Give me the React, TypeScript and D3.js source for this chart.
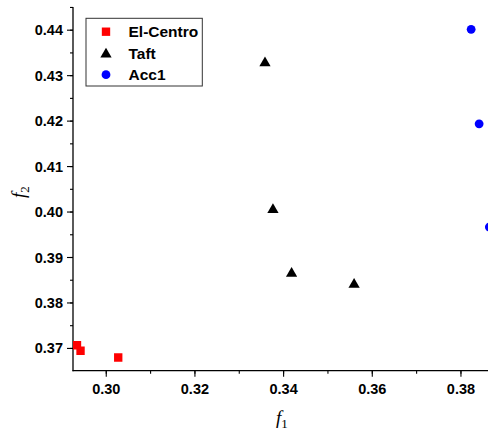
import React from "react";
import * as d3 from "d3";

const elCentroF1 = [0.2934, 0.2942, 0.3027];
const elCentroF2 = [0.3707, 0.3695, 0.368];
const taftF1 = [0.3358, 0.3376, 0.3418, 0.3559];
const taftF2 = [0.433, 0.4007, 0.3867, 0.3843];
const acc1F1 = [0.3823, 0.3841, 0.3864];
const acc1F2 = [0.4402, 0.4194, 0.3967];
const xTicks = [0.3, 0.32, 0.34, 0.36, 0.38];
const yTicks = [0.37, 0.38, 0.39, 0.4, 0.41, 0.42, 0.43, 0.44];
const seriesNames = ["El-Centro", "Taft", "Acc1"];
const seriesColors = ["#ff0000", "#000000", "#0000ff"];

const W = 488, H = 433;
const left = 73, bottom = 370.7, top = 7;
const x = d3.scaleLinear().domain([0.2925, 0.3861]).range([left, 488]);
const y = d3.scaleLinear().domain([0.3651, 0.4451]).range([bottom, top]);

const font = "'Liberation Sans', Arial, sans-serif";

function Marker({ kind, cx, cy, color }: { kind: number; cx: number; cy: number; color: string }) {
  if (kind === 0) {
    const p = d3.symbol(d3.symbolSquare, 70)();
    return <path d={p as string} transform={`translate(${cx},${cy})`} fill={color} />;
  }
  if (kind === 1) {
    const p = d3.symbol(d3.symbolTriangle, 55)();
    return <path d={p as string} transform={`translate(${cx},${cy + 1})`} fill={color} />;
  }
  return <circle cx={cx} cy={cy} r={4.4} fill={color} />;
}

export default function App() {
  const series = [
    [elCentroF1, elCentroF2],
    [taftF1, taftF2],
    [acc1F1, acc1F2],
  ];
  const xMinor = d3.range(0.29, 0.391, 0.01).filter((v) => x(v) >= left && x(v) <= W);
  const yMinor = d3.range(0.365, 0.446, 0.005).filter((v) => y(v) <= bottom && y(v) >= top);
  return (
    <svg width={W} height={H} style={{ position: "absolute", left: 0, top: 0 }}>
      <rect width={W} height={H} fill="#fff" />
      {/* axes */}
      <line x1={left} x2={left} y1={top} y2={bottom + 0.5} stroke="#000" strokeWidth={1.3} />
      <line x1={left - 0.5} x2={W} y1={bottom} y2={bottom} stroke="#000" strokeWidth={1.3} />
      {yMinor.map((v, i) => (
        <line key={"ym" + i} x1={left - 3} x2={left} y1={y(v)} y2={y(v)} stroke="#000" strokeWidth={1.1} />
      ))}
      {yTicks.map((v) => (
        <g key={"y" + v}>
          <line x1={left - 6} x2={left} y1={y(v)} y2={y(v)} stroke="#000" strokeWidth={1.1} />
          <text x={left - 10} y={y(v)} dy="0.35em" textAnchor="end" fontFamily={font} fontWeight="bold" fontSize={14.5}>
            {d3.format(".2f")(v)}
          </text>
        </g>
      ))}
      {xMinor.map((v, i) => (
        <line key={"xm" + i} x1={x(v)} x2={x(v)} y1={bottom} y2={bottom + 3} stroke="#000" strokeWidth={1.1} />
      ))}
      {xTicks.map((v) => (
        <g key={"x" + v}>
          <line x1={x(v)} x2={x(v)} y1={bottom} y2={bottom + 6} stroke="#000" strokeWidth={1.1} />
          <text x={x(v)} y={bottom + 23.5} textAnchor="middle" fontFamily={font} fontWeight="bold" fontSize={14.5}>
            {d3.format(".2f")(v)}
          </text>
        </g>
      ))}
      {/* axis titles */}
      <text x={276} y={424} fontFamily="'Liberation Serif', 'Times New Roman', serif" fontStyle="italic" fontSize={19}>
        f<tspan fontStyle="normal" fontSize={13} dy={4}>1</tspan>
      </text>
      <g transform="translate(25,198) rotate(-90)">
        <text x={0} y={0} fontFamily="'Liberation Serif', 'Times New Roman', serif" fontStyle="italic" fontSize={19}>
          f<tspan fontStyle="normal" fontSize={13} dy={4}>2</tspan>
        </text>
      </g>
      {/* points */}
      <defs>
        <clipPath id="plotclip">
          <rect x={left} y={0} width={W - left} height={bottom} />
        </clipPath>
      </defs>
      <g clipPath="url(#plotclip)">
        {series.map(([xs, ys], si) =>
          xs.map((v, i) => (
            <Marker key={si + "-" + i} kind={si} cx={x(v)} cy={y(ys[i])} color={seriesColors[si]} />
          ))
        )}
      </g>
      {/* legend */}
      <rect x={86} y={18.3} width={116.3} height={67.7} fill="#fff" stroke="#333" strokeWidth={1} />
      {seriesNames.map((n, i) => (
        <g key={n}>
          <Marker kind={i} cx={106} cy={31.7 + i * 21.5} color={seriesColors[i]} />
          <text x={128.5} y={31.7 + i * 21.5} dy="0.36em" fontFamily={font} fontWeight="bold" fontSize={15.5}>
            {n}
          </text>
        </g>
      ))}
    </svg>
  );
}
